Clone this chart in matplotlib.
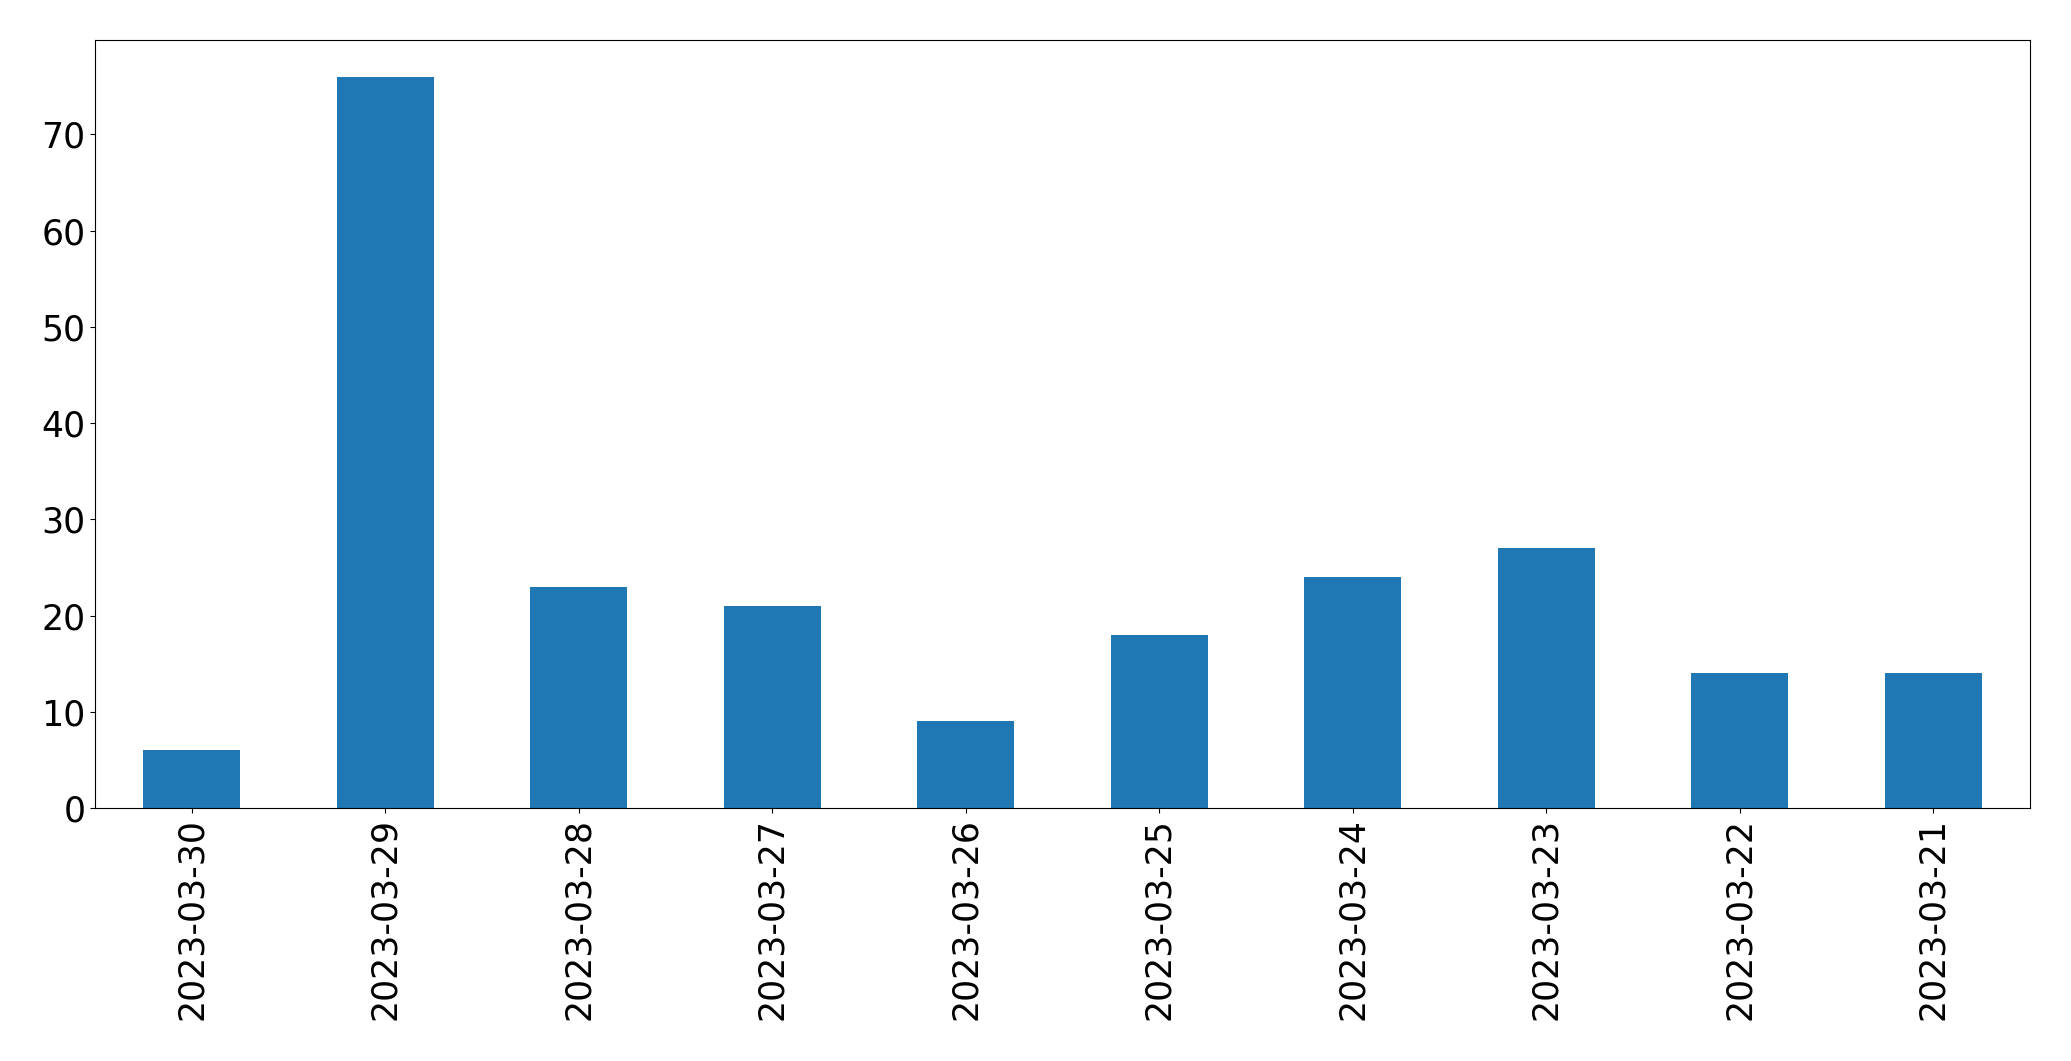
import matplotlib
matplotlib.use("Agg")
import matplotlib.pyplot as plt

dates = ["2023-03-30","2023-03-29","2023-03-28","2023-03-27","2023-03-26",
         "2023-03-25","2023-03-24","2023-03-23","2023-03-22","2023-03-21"]
counts = [6, 76, 23, 21, 9, 18, 24, 27, 14, 14]

fig = plt.figure(figsize=(20.71, 10.61), dpi=100)
ax = fig.add_axes([95/2071, 1-808/1061, (2030-95)/2071, (808-40)/1061])
x = range(len(dates))
ax.bar(x, counts, width=0.5, color="#1f77b4")
ax.set_xlim(-0.5, len(dates)-0.5)
ax.set_ylim(0, 79.8)
ax.set_xticks(list(x))
ax.set_xticklabels(dates, rotation=90)
ax.tick_params(labelsize=25)
fig.savefig("out.png", dpi=100)
